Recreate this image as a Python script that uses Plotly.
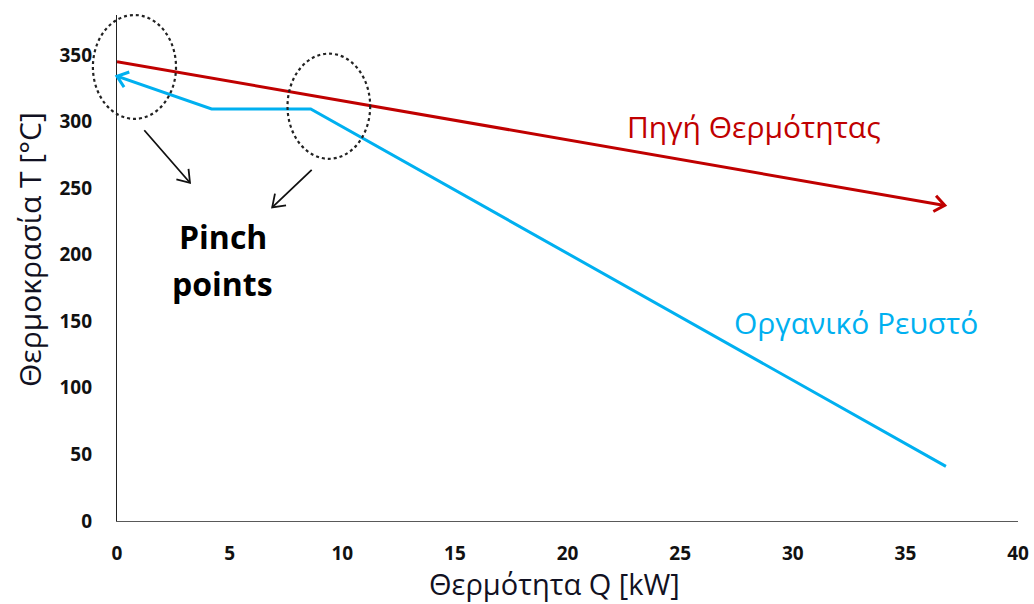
import math
import plotly.graph_objects as go

# ---------------- data ----------------
source_q = [0.0, 36.75]            # Πηγή Θερμότητας (heat source), kW
source_t = [345, 237]              # °C
fluid_q = [36.8, 8.6, 4.2, 0.0]    # Οργανικό Ρευστό (organic fluid), drawn right -> left
fluid_t = [41, 309.5, 309.5, 334]
x_ticks = [0, 5, 10, 15, 20, 25, 30, 35, 40]
y_ticks = [0, 50, 100, 150, 200, 250, 300, 350]
# pinch-point ellipses (data bounds): x0, x1, y0, y1
pinch_x0 = [-1.07, 7.57]
pinch_x1 = [2.62, 11.24]
pinch_y0 = [302, 272]
pinch_y1 = [380, 351]

X0, X1 = 0, 40
Y0, Y1 = 0, 380
W, H = 1034, 604
L, R, T, B = 117, 1018, 15, 521

RED = "#C00000"
BLUE = "#00B0F0"


def to_px(x, y):
    return (L + (x - X0) / (X1 - X0) * (R - L),
            B - (y - Y0) / (Y1 - Y0) * (B - T))


def to_paper(px_x, px_y):
    return ((px_x - L) / (R - L), (B - px_y) / (B - T))


def chevron_px(tip, tail, color, width, length=13, ang=38):
    tx, ty = tip
    sx, sy = tail
    dx, dy = tx - sx, ty - sy
    n = math.hypot(dx, dy)
    dx, dy = dx / n, dy / n
    pts = []
    for s in (1, -1):
        a = math.radians(ang * s)
        rx = dx * math.cos(a) - dy * math.sin(a)
        ry = dx * math.sin(a) + dy * math.cos(a)
        pts.append(to_paper(tx - length * rx, ty - length * ry))
    tp = to_paper(tx, ty)
    path = f"M{pts[0][0]},{pts[0][1]} L{tp[0]},{tp[1]} L{pts[1][0]},{pts[1][1]}"
    return dict(type="path", xref="paper", yref="paper", path=path,
                line=dict(color=color, width=width))


def chevron(tip, prev, color):
    return chevron_px(to_px(*tip), to_px(*prev), color, 3)


fig = go.Figure()
fig.add_trace(go.Scatter(x=source_q, y=source_t, mode="lines",
                         line=dict(color=RED, width=3), showlegend=False))
fig.add_trace(go.Scatter(x=fluid_q, y=fluid_t, mode="lines",
                         line=dict(color=BLUE, width=3), showlegend=False))

shapes = [chevron((source_q[-1], source_t[-1]), (source_q[0], source_t[0]), RED),
          chevron((fluid_q[-1], fluid_t[-1]), (fluid_q[-2], fluid_t[-2]), BLUE)]
for x0, x1, y0, y1 in zip(pinch_x0, pinch_x1, pinch_y0, pinch_y1):
    a = to_paper(*to_px(x0, y0))
    b = to_paper(*to_px(x1, y1))
    shapes.append(dict(type="circle", xref="paper", yref="paper",
                       x0=a[0], x1=b[0], y0=a[1], y1=b[1],
                       line=dict(color="#222222", width=2.2, dash="dot")))

arrows = [(3.24, 254, -47, -54), (6.89, 235.5, 41, -39)]
annotations = []
for hx, hy, ax, ay in arrows:
    annotations.append(dict(x=hx, y=hy, xref="x", yref="y", ax=ax, ay=ay,
                            showarrow=True, arrowhead=0, arrowwidth=1.8,
                            arrowcolor="#111111", text=""))
    tx, ty = to_px(hx, hy)
    shapes.append(chevron_px((tx, ty), (tx + ax, ty + ay), "#111111", 1.8,
                             length=14, ang=35))

xt = to_paper(554, 583)
yt = to_paper(29, 250)
annotations += [
    dict(x=4.7, y=214, xref="x", yref="y", text="<b>Pinch</b>", showarrow=False,
         font=dict(family="Open Sans", size=32, color="#000000")),
    dict(x=4.7, y=178, xref="x", yref="y", text="<b>points</b>", showarrow=False,
         font=dict(family="Open Sans", size=32, color="#000000")),
    dict(x=28.3, y=296, xref="x", yref="y", text="Πηγή Θερμότητας", showarrow=False,
         font=dict(family="Open Sans", size=30, color=RED)),
    dict(x=32.8, y=149, xref="x", yref="y", text="Οργανικό Ρευστό", showarrow=False,
         font=dict(family="Open Sans", size=30, color=BLUE)),
    dict(x=xt[0], y=xt[1], xref="paper", yref="paper", text="Θερμότητα Q [kW]",
         showarrow=False, xanchor="center", yanchor="middle",
         font=dict(family="Open Sans", size=29, color="#111122")),
    dict(x=yt[0], y=yt[1], xref="paper", yref="paper", text="Θερμοκρασία T [°C]",
         showarrow=False, textangle=-90, xanchor="center", yanchor="middle",
         font=dict(family="Open Sans", size=30, color="#111122")),
]

fig.update_layout(
    width=W, height=H,
    margin=dict(l=L, r=W - R, t=T, b=H - B, autoexpand=False),
    paper_bgcolor="white", plot_bgcolor="white",
    shapes=shapes, annotations=annotations,
    xaxis=dict(range=[X0, X1], tickvals=x_ticks, showgrid=False, zeroline=False,
               showline=True, linecolor="#595959", linewidth=1.3, ticks="",
               ticklabelstandoff=15, automargin=False,
               tickfont=dict(family="Open Sans", size=19, color="#111111", weight="bold")),
    yaxis=dict(range=[Y0, Y1], tickvals=y_ticks, showgrid=False, zeroline=False,
               showline=True, linecolor="#222222", linewidth=1.3, ticks="",
               ticklabelstandoff=20, automargin=False,
               tickfont=dict(family="Open Sans", size=19, color="#111111", weight="bold")),
)

fig.write_html("out.html")
